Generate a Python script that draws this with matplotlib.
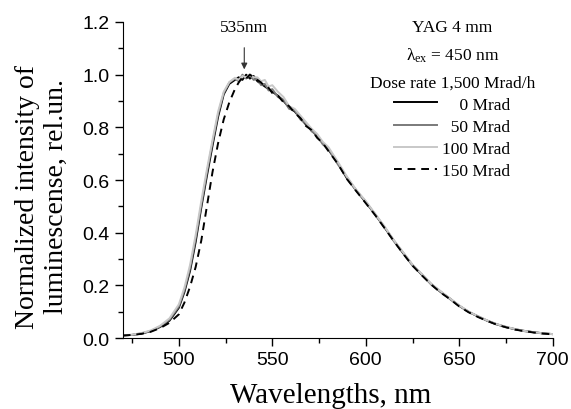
import matplotlib
matplotlib.use("Agg")
import matplotlib.pyplot as plt
from matplotlib.ticker import MultipleLocator

# ---------------- DATA ----------------
wavelength = [470, 475, 480, 485, 490, 495, 500, 503, 506, 509,
              512, 515, 518, 521, 524, 527, 530, 532, 534, 536,
              538, 540, 542, 544, 546, 548, 550, 553, 556, 559,
              562, 565, 568, 571, 574, 577, 580, 585, 590, 595,
              600, 605, 610, 615, 620, 625, 630, 635, 640, 645,
              650, 655, 660, 665, 670, 675, 680, 685, 690, 695, 700]

dose_0 = [0.010, 0.012, 0.017, 0.026, 0.042, 0.066, 0.115, 0.175, 0.255, 0.365,
          0.495, 0.615, 0.730, 0.840, 0.925, 0.965, 0.980, 0.990, 0.980, 1.000,
          0.985, 0.995, 0.975, 0.965, 0.955, 0.945, 0.935, 0.920, 0.900, 0.875,
          0.860, 0.835, 0.810, 0.790, 0.765, 0.740, 0.715, 0.665, 0.605, 0.560,
          0.515, 0.470, 0.420, 0.370, 0.322, 0.277, 0.240, 0.205, 0.175, 0.150,
          0.122, 0.100, 0.082, 0.066, 0.052, 0.042, 0.033, 0.027, 0.022, 0.018, 0.015]

dose_50 = [0.010, 0.012, 0.018, 0.027, 0.044, 0.070, 0.120, 0.182, 0.265, 0.378,
           0.505, 0.628, 0.742, 0.850, 0.930, 0.970, 0.985, 0.975, 1.000, 0.985,
           1.000, 0.980, 0.985, 0.960, 0.965, 0.940, 0.945, 0.915, 0.905, 0.870,
           0.865, 0.830, 0.815, 0.785, 0.770, 0.735, 0.720, 0.660, 0.610, 0.558,
           0.518, 0.468, 0.422, 0.368, 0.324, 0.275, 0.242, 0.203, 0.177, 0.148,
           0.123, 0.099, 0.083, 0.065, 0.053, 0.041, 0.034, 0.026, 0.022, 0.017, 0.015]

dose_100 = [0.011, 0.013, 0.019, 0.029, 0.047, 0.075, 0.128, 0.192, 0.278, 0.392,
            0.520, 0.640, 0.752, 0.860, 0.935, 0.972, 0.988, 0.980, 0.995, 0.990,
            1.000, 0.990, 0.990, 0.975, 0.980, 0.955, 0.960, 0.935, 0.915, 0.880,
            0.870, 0.845, 0.820, 0.795, 0.775, 0.745, 0.725, 0.670, 0.612, 0.562,
            0.520, 0.472, 0.424, 0.372, 0.326, 0.279, 0.243, 0.206, 0.178, 0.151,
            0.124, 0.101, 0.083, 0.067, 0.053, 0.043, 0.034, 0.027, 0.022, 0.018, 0.015]

dose_150 = [0.010, 0.012, 0.016, 0.024, 0.038, 0.058, 0.090, 0.135, 0.195, 0.270,
            0.370, 0.500, 0.630, 0.740, 0.830, 0.895, 0.945, 0.970, 0.990, 0.985,
            1.000, 0.990, 0.980, 0.970, 0.955, 0.950, 0.930, 0.920, 0.895, 0.880,
            0.855, 0.835, 0.805, 0.790, 0.760, 0.740, 0.710, 0.662, 0.603, 0.557,
            0.512, 0.467, 0.418, 0.368, 0.320, 0.275, 0.238, 0.203, 0.173, 0.148,
            0.120, 0.098, 0.080, 0.065, 0.051, 0.041, 0.032, 0.026, 0.021, 0.017, 0.014]

series_labels = ["\u2007\u20070 Mrad", "\u200750 Mrad", "100 Mrad", "150 Mrad"]
peak_wl = 535

# ---------------- STYLE ----------------
plt.rcParams["font.family"] = ["Liberation Sans", "DejaVu Sans"]
plt.rcParams["mathtext.fontset"] = "custom"
plt.rcParams["mathtext.rm"] = "Liberation Serif"
plt.rcParams["mathtext.it"] = "Liberation Serif:italic"
serif = ["Liberation Serif", "DejaVu Serif"]

fig = plt.figure(figsize=(5.71, 4.10), dpi=100)
ax = fig.add_axes([0.215, 0.173, 0.753, 0.771])

ax.plot(wavelength, dose_0, color="black", lw=1.4, label=series_labels[0])
ax.plot(wavelength, dose_50, color="#7a7a7a", lw=1.4, label=series_labels[1])
ax.plot(wavelength, dose_100, color="#c8c8c8", lw=1.4, label=series_labels[2])
ax.plot(wavelength, dose_150, color="black", lw=1.4, ls=(0, (4, 3)), label=series_labels[3])

ax.set_xlim(470, 700)
ax.set_ylim(0, 1.2)
ax.xaxis.set_major_locator(MultipleLocator(50))
ax.xaxis.set_minor_locator(MultipleLocator(25))
ax.yaxis.set_major_locator(MultipleLocator(0.2))
ax.yaxis.set_minor_locator(MultipleLocator(0.1))
ax.yaxis.set_major_formatter(lambda v, p: f"{v:.1f}")
ax.tick_params(which="major", direction="out", length=6, width=1, labelsize=14)
ax.tick_params(which="minor", direction="out", length=3.5, width=1)
for side in ("top", "right"):
    ax.spines[side].set_visible(False)

ax.set_xlabel("Wavelengths, nm", fontsize=21, family=serif, labelpad=10)
ax.xaxis.label.set_x(0.484)
ax.set_ylabel("Normalized intensity of\nluminescense, rel.un.", fontsize=20,
              family=serif, labelpad=10, linespacing=1.2)
ax.yaxis.label.set_y(0.45)

# peak annotation
ax.annotate(f"{peak_wl}nm", xy=(peak_wl, 1.02), xytext=(peak_wl, 1.18),
            ha="center", va="center", fontsize=12.5, family=serif,
            arrowprops=dict(arrowstyle="-|>", color="#333333", lw=0.8,
                            mutation_scale=9, shrinkA=7, shrinkB=0))

leg = ax.legend(loc="upper right", bbox_to_anchor=(0.995, 1.06), frameon=False,
                title="YAG 4 mm\n\u03bb$_{\\mathrm{ex}}$ = 450 nm\nDose rate 1,500 Mrad/h",
                prop={"family": serif, "size": 12.5}, handlelength=2.5,
                handletextpad=0.3, labelspacing=0.35)
title = leg.get_title()
title.set_fontfamily(serif)
title.set_fontsize(12.5)
title.set_linespacing(1.82)
title.set_multialignment("center")

fig.savefig("out.png", dpi=100)
